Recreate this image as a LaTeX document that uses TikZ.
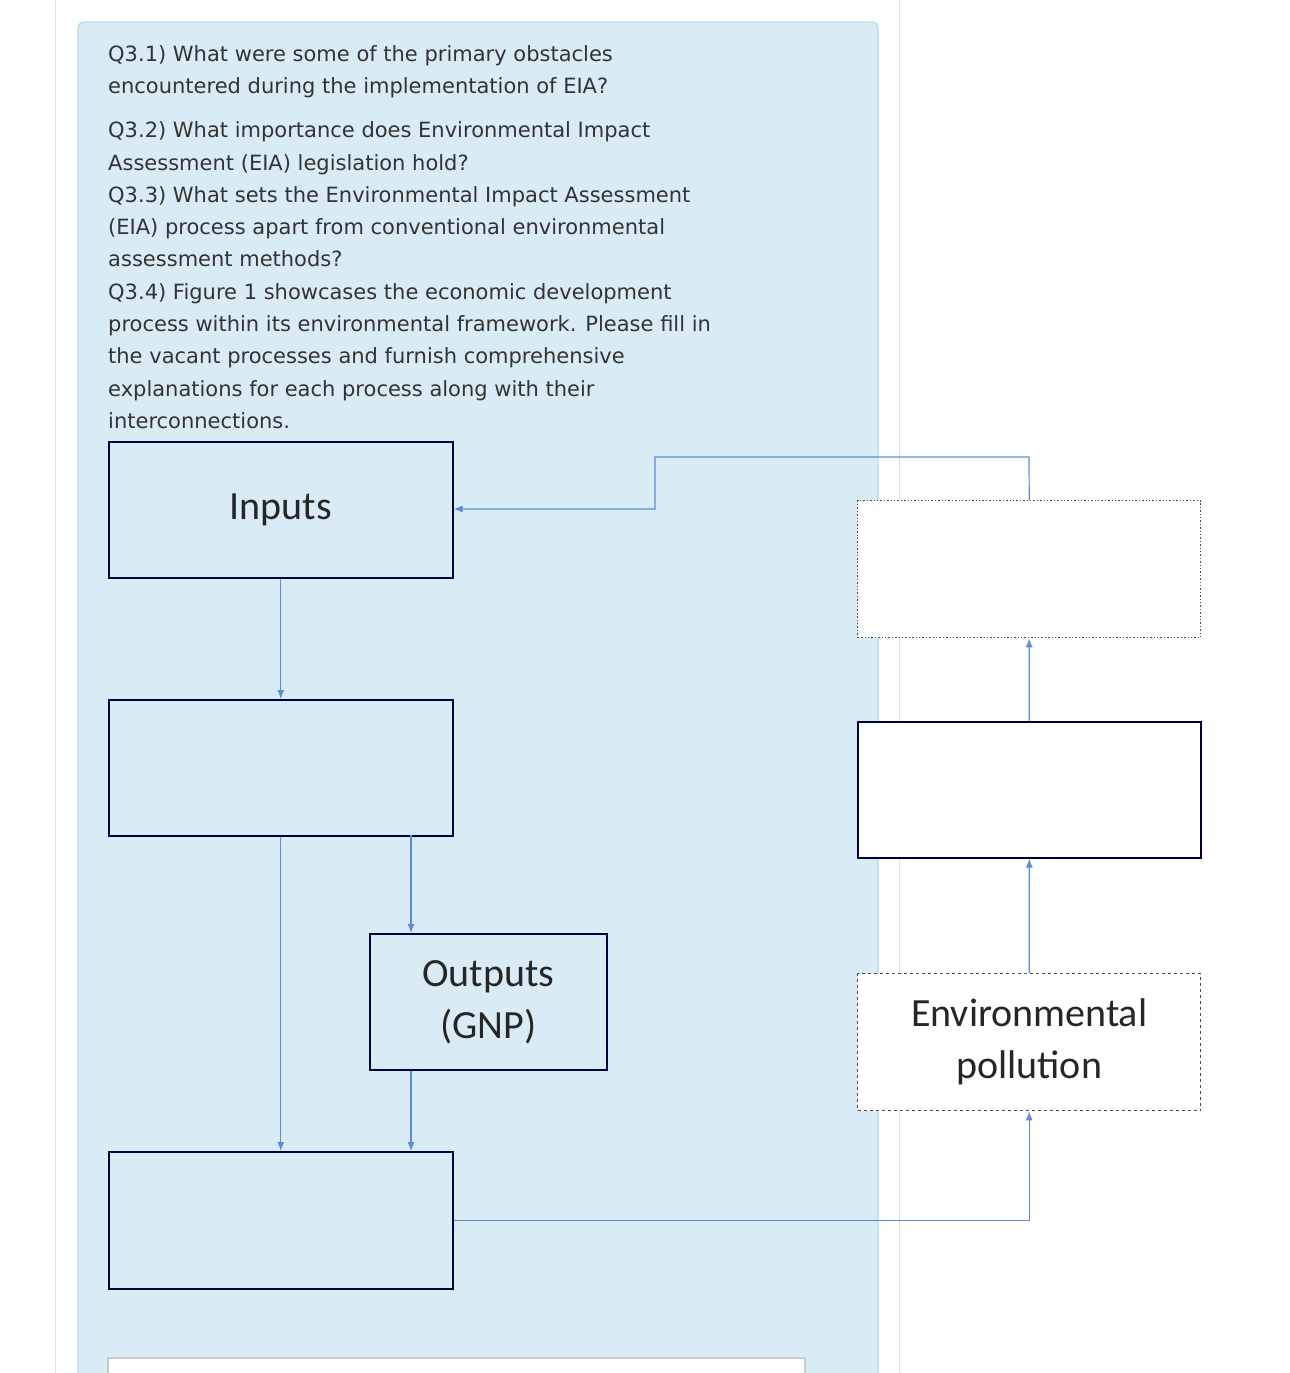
\documentclass[tikz,border=0pt]{standalone}
\usepackage{fontspec}
\setmainfont{DejaVu Sans}
\newfontfamily\boxfont{Carlito}
\begin{document}
\begin{tikzpicture}[x=1pt,y=-1pt,
  bx/.style={draw=black!75!blue,line width=1.6pt},
  ar/.style={draw=arrowblue,line width=1.2pt,-{Latex[length=9pt,width=7pt]}},
  ln/.style={draw=arrowblue,line width=1.2pt},
  lbl/.style={font=\boxfont\fontsize{40}{52}\selectfont,align=center,text=black!85}]
\usetikzlibrary{arrows.meta}
\definecolor{arrowblue}{HTML}{5B8BD9}
\definecolor{panel}{HTML}{D9ECF5}
\definecolor{panelb}{HTML}{B5DCEC}
\useasboundingbox (0,0) rectangle (1290,1373);
\fill[white] (0,0) rectangle (1290,1373);
\draw[black!12,line width=1pt] (55,0) -- (55,1373) (899,0) -- (899,1373);
\path[fill=panel,draw=panelb,line width=1.2pt,rounded corners=6pt] (78,1380) -- (78,22) -- (878,22) -- (878,1380);
\node[anchor=north west,text=black!80,font=\fontsize{21}{32.3}\selectfont,align=left,inner sep=0pt] (txt) at (108,45) {Q3.1) What were some of the primary obstacles\\encountered during the implementation of EIA?\\[12pt]Q3.2) What importance does Environmental Impact\\Assessment (EIA) legislation hold?\\Q3.3) What sets the Environmental Impact Assessment\\(EIA) process apart from conventional environmental\\assessment methods?\\Q3.4) Figure 1 showcases the economic development\\process within its environmental framework. Please fill in\\the vacant processes and furnish comprehensive\\explanations for each process along with their\\interconnections.};
\node[bx,fill=panel,minimum width=344pt,minimum height=136pt,anchor=north west,lbl] (in) at (108,441) {Inputs};
\node[bx,fill=panel,minimum width=344pt,minimum height=136pt,anchor=north west] (b2) at (108,699) {};
\node[bx,fill=panel,minimum width=237pt,minimum height=136pt,anchor=north west,lbl] (out) at (369,933) {Outputs\\(GNP)};
\node[bx,fill=panel,minimum width=344pt,minimum height=137pt,anchor=north west] (b4) at (108,1151) {};
\node[draw=black!70,dotted,line width=1.4pt,fill=white,minimum width=343pt,minimum height=137pt,anchor=north west] (r1) at (857,500) {};
\node[bx,fill=white,minimum width=343pt,minimum height=136pt,anchor=north west] (r2) at (857,721) {};
\node[draw=black!70,dashed,line width=1.4pt,fill=white,minimum width=343pt,minimum height=137pt,anchor=north west,lbl] (env) at (857,973) {Environmental\\pollution};
\fill[white,draw=black!20,line width=1.2pt] (108,1373) -- (108,1358) -- (805,1358) -- (805,1373);
\draw[ar] (in.south) -- (b2.north);
\draw[ar] (b2.south) -- (b4.north);
\draw[ar] (411,835) -- (out.north -| 411,0);
\draw[ar] (out.south -| 411,0) -- (b4.north -| 411,0);
\draw[ar] (b4.east) -| (env.south);
\draw[ar] (env.north) -- (r2.south);
\draw[ar] (r2.north) -- (r1.south);
\draw[ar] (r1.north) -- (1029,457) -- (655,457) -- (655,509) -- (in.east |- 0,509);
\end{tikzpicture}
\end{document}
